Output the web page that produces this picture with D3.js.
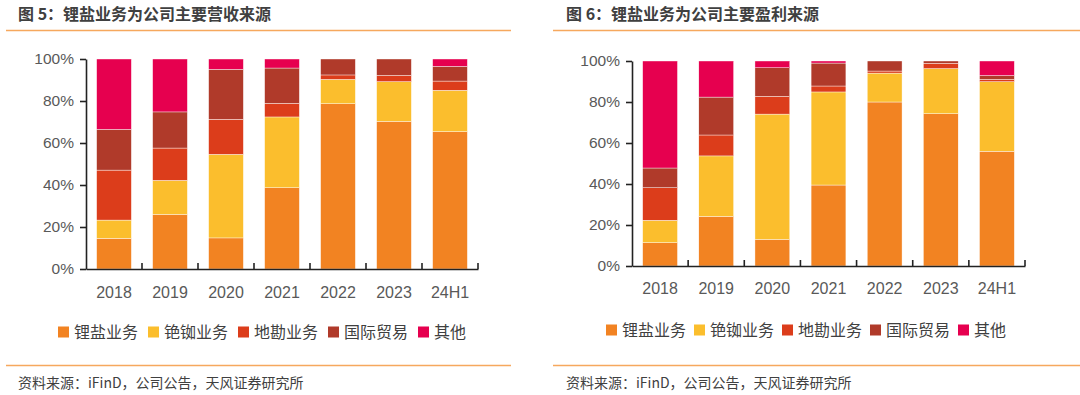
<!DOCTYPE html>
<html><head><meta charset="utf-8">
<script src="https://cdn.jsdelivr.net/npm/d3@7"></script>
<style>
html,body{margin:0;padding:0;background:#fff;}
svg{display:block;}
</style></head>
<body>
<svg id="c" width="1080" height="395"></svg>
<script>
const categories = ["2018","2019","2020","2021","2022","2023","24H1"];
const seriesNames = ["锂盐业务","铯铷业务","地勘业务","国际贸易","其他"];
const seriesColors = ["#F28322","#FBBE2D","#DC3D1B","#B03A2A","#E6004F"];
const yTicks = [0,20,40,60,80,100];

// Revenue share (%) by segment
const revLithium = [14.6, 26.0, 14.8, 38.7, 78.7, 70.3, 65.4];
const revCesium  = [ 8.7, 16.2, 39.8, 33.7, 11.6, 18.9, 19.7];
const revSurvey  = [23.8, 15.4, 16.7,  6.5,  2.1,  3.0,  4.4];
const revTrade   = [19.4, 17.2, 23.8, 16.8,  7.6,  7.8,  7.0];
const revOther   = [33.5, 25.2,  4.9,  4.3,  0.0,  0.0,  3.5];

// Gross profit share (%) by segment
const proLithium = [11.4, 24.2, 13.0, 39.5, 80.0, 74.3, 56.0];
const proCesium  = [10.9, 29.5, 61.1, 45.4, 14.1, 22.0, 33.9];
const proSurvey  = [15.9, 10.2,  8.7,  2.9,  1.0,  2.6,  1.2];
const proTrade   = [ 9.6, 18.5, 13.9, 11.2,  4.9,  1.1,  1.8];
const proOther   = [52.2, 17.6,  3.3,  1.0,  0.0,  0.0,  7.1];

const titles = ["图 5：锂盐业务为公司主要营收来源","图 6：锂盐业务为公司主要盈利来源"];
const sourceText = "资料来源：iFinD，公司公告，天风证券研究所";

const svg = d3.select("#c");
const CJK = "'Noto Sans CJK SC','Noto Sans',sans-serif";
const NUM = "'Liberation Sans',Arial,sans-serif";

function panel(cfg, series, title){
  const g = svg.append("g");
  // title
  g.append("text").attr("x", cfg.titleX).attr("y", 20)
    .attr("font-family", CJK).attr("font-size", 16).attr("font-weight", 700)
    .attr("fill", "#404040").text(title);
  g.append("line").attr("x1", cfg.lineX0).attr("x2", cfg.lineX1).attr("y1", 30.5).attr("y2", 30.5)
    .attr("stroke", "#F6A85E").attr("stroke-width", 1.3);
  g.append("line").attr("x1", cfg.lineX0).attr("x2", cfg.lineX1).attr("y1", 365.5).attr("y2", 365.5)
    .attr("stroke", "#F6A85E").attr("stroke-width", 1.3);
  g.append("text").attr("x", cfg.titleX).attr("y", 388)
    .attr("font-family", CJK).attr("font-size", 14)
    .attr("fill", "#404040").text(sourceText);

  const x = d3.scaleBand().domain(categories).range([cfg.ax0, cfg.ax1]).paddingInner(0.38).paddingOuter(0.19);
  const y = d3.scaleLinear().domain([0,100]).range([cfg.y0, cfg.y100]);

  const rows = categories.map((c,i)=>{
    const o = {cat:c};
    seriesNames.forEach((s,k)=>{ o[s] = series[k][i]; });
    return o;
  });
  const stack = d3.stack().keys(seriesNames)(rows);

  g.append("g").selectAll("g").data(stack).join("g")
    .attr("fill", (d,i)=>seriesColors[i])
    .selectAll("rect").data(d=>d).join("rect")
    .attr("x", d=>x(d.data.cat))
    .attr("width", x.bandwidth())
    .attr("y", d=>y(d[1]))
    .attr("height", d=>Math.max(0, y(d[0]) - y(d[1])))
    .attr("stroke", "#fff").attr("stroke-width", 0.4);

  // y axis
  const ya = g.append("g").attr("transform", `translate(${cfg.ax0},0)`)
    .call(d3.axisLeft(y).tickValues(yTicks).tickFormat(d=>d+"%").tickSize(6).tickSizeOuter(0));
  ya.select(".domain").attr("stroke", "#222").attr("stroke-width", 1.6);
  ya.selectAll(".tick line").attr("stroke", "#222").attr("stroke-width", 1.6);
  ya.selectAll(".tick text").attr("font-family", NUM).attr("font-size", 15.5)
    .attr("fill", "#595959").attr("x", -cfg.ylabGap);

  // x axis
  const xa = g.append("g").attr("transform", `translate(0,${cfg.y0})`)
    .call(d3.axisBottom(x).tickSize(0).tickSizeOuter(0));
  xa.select(".domain").attr("stroke", "#222").attr("stroke-width", 1.6);
  xa.selectAll(".tick text").attr("font-family", NUM).attr("font-size", 16)
    .attr("fill", "#595959").attr("dy", 0).attr("y", cfg.xlabY - cfg.y0);
  // boundary ticks between categories
  const bounds = d3.range(categories.length + 1).map(i => cfg.ax0 + i * x.step() * (1) + (i===0?0:0));
  const stepW = (cfg.ax1 - cfg.ax0) / categories.length;
  xa.append("g").selectAll("line").data(d3.range(1, categories.length + 1)).join("line")
    .attr("x1", i=>cfg.ax0 + i*stepW).attr("x2", i=>cfg.ax0 + i*stepW)
    .attr("y1", 0).attr("y2", -6).attr("stroke", "#222").attr("stroke-width", 1.6);

  // legend
  const lg = g.append("g");
  seriesNames.forEach((s,i)=>{
    const lx = cfg.legX + i*cfg.legStep;
    lg.append("rect").attr("x", lx).attr("y", cfg.legY - 5.5).attr("width", 11).attr("height", 11)
      .attr("fill", seriesColors[i]);
    lg.append("text").attr("x", lx + 16).attr("y", cfg.legY + 5.8)
      .attr("font-family", CJK).attr("font-size", 16).attr("fill", "#404040").text(s);
  });
}

panel({titleX:18, lineX0:6, lineX1:511, ax0:86, ax1:478, y0:269, y100:59, ylabGap:12, xlabY:298, legX:58, legStep:90, legY:332},
  [revLithium, revCesium, revSurvey, revTrade, revOther], titles[0]);
panel({titleX:566, lineX0:553, lineX1:1080, ax0:632, ax1:1025, y0:266, y100:61, ylabGap:12, xlabY:294, legX:606, legStep:88, legY:330},
  [proLithium, proCesium, proSurvey, proTrade, proOther], titles[1]);
</script>
</body></html>
